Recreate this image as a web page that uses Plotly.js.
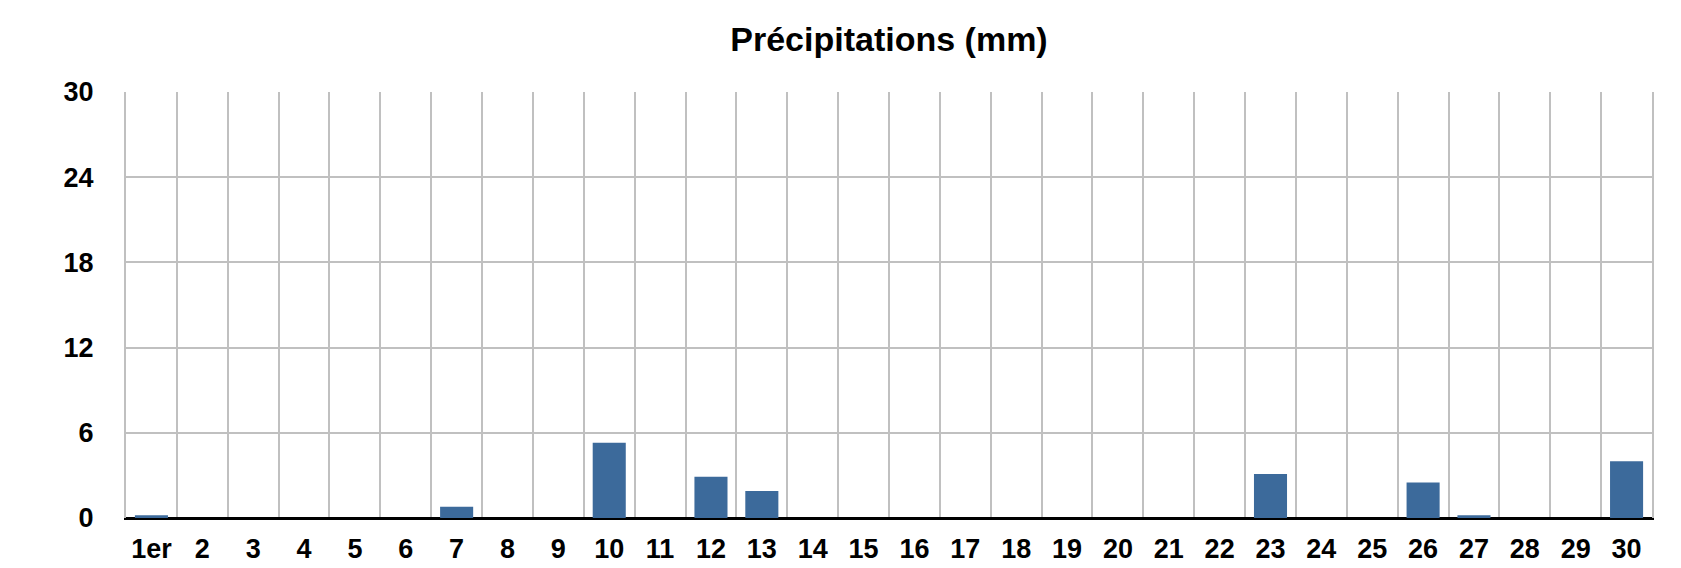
<!DOCTYPE html>
<html>
<head>
<meta charset="utf-8">
<script src="https://cdn.plot.ly/plotly-3.0.1.min.js"></script>
<style>html,body{margin:0;padding:0;background:#fff;}#chart{width:1681px;height:568px;}</style>
</head>
<body>
<div id="chart"></div>
<script>
const days = ["1er","2","3","4","5","6","7","8","9","10","11","12","13","14","15","16","17","18","19","20","21","22","23","24","25","26","27","28","29","30"];
const precipitation = [0.2,0,0,0,0,0,0.8,0,0,5.3,0,2.9,1.9,0,0,0,0,0,0,0,0,0,3.1,0,0,2.5,0.2,0,0,4.0];
const yTicks = [0,6,12,18,24,30];
const chartTitle = "Précipitations (mm)";

const fontFamily = "'Liberation Sans', Arial, Helvetica, sans-serif";
const trace = {
  type: 'bar',
  x: days,
  y: precipitation,
  marker: {color: '#3c6a9b'},
  hoverinfo: 'x+y'
};
const layout = {
  width: 1681, height: 568,
  margin: {l: 126, r: 29, t: 92, b: 50},
  paper_bgcolor: '#ffffff', plot_bgcolor: '#ffffff',
  bargap: 0.35,
  showlegend: false,
  title: {
    text: chartTitle,
    x: 0.5, xref: 'paper', xanchor: 'center',
    y: 1 - 39/568, yref: 'container', yanchor: 'middle',
    font: {family: fontFamily, size: 34, color: '#000', weight: 'bold'}
  },
  xaxis: {
    type: 'category',
    tickson: 'boundaries',
    showgrid: true, gridcolor: '#c0c0c0', gridwidth: 2,
    ticks: '',
    showline: true, linecolor: '#000', linewidth: 2,
    tickfont: {family: fontFamily, size: 27, color: '#000', weight: 'bold'},
    ticklabelstandoff: 6,
    fixedrange: true
  },
  yaxis: {
    range: [0, 30],
    tickvals: yTicks,
    ticktext: yTicks.map(String),
    showgrid: true, gridcolor: '#c0c0c0', gridwidth: 2,
    showline: true, mirror: true, linecolor: '#c0c0c0', linewidth: 2,
    zeroline: true, zerolinecolor: '#000', zerolinewidth: 2,
    ticks: '',
    tickfont: {family: fontFamily, size: 27, color: '#000', weight: 'bold'},
    ticklabelstandoff: 25,
    fixedrange: true
  }
};
Plotly.newPlot('chart', [trace], layout, {displayModeBar: false, staticPlot: true});
</script>
</body>
</html>
